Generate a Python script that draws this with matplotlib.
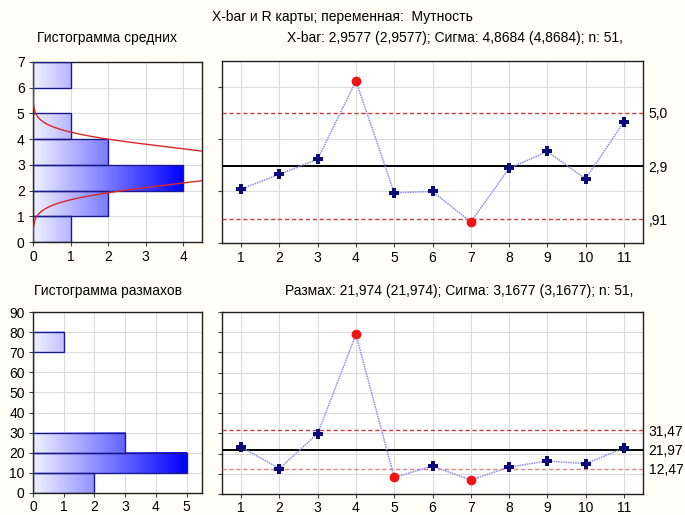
import numpy as np
import matplotlib
matplotlib.use("Agg")
import matplotlib.pyplot as plt
from matplotlib.colors import LinearSegmentedColormap

plt.rcParams['font.family'] = ['Liberation Sans', 'DejaVu Sans']
plt.rcParams['font.size'] = 10

# ---- data ----
samples = [1, 2, 3, 4, 5, 6, 7, 8, 9, 10, 11]
xbar_values = [2.075, 2.64, 3.226, 6.23, 1.93, 1.986, 0.81, 2.868, 3.52, 2.47, 4.66]
range_values = [23.2, 12.6, 29.9, 78.9, 8.2, 13.8, 6.9, 13.3, 16.3, 15.0, 22.7]

xbar_center = 2.9577
xbar_ucl = 5.0029
xbar_lcl = 0.9125
xbar_sigma_mean = 0.6817
xbar_right_labels = ["5,0", "2,9", ",91"]

r_center = 21.974
r_ucl = 31.47
r_lcl = 12.47
r_right_labels = ["31,47", "21,97", "12,47"]

xbar_hist_edges = [0, 1, 2, 3, 4, 5, 6, 7]
xbar_hist_counts = [1, 2, 4, 2, 1, 0, 1]
r_hist_edges = [0, 10, 20, 30, 40, 50, 60, 70, 80]
r_hist_counts = [2, 5, 3, 0, 0, 0, 0, 1]

suptitle = "X-bar и R карты; переменная:  Мутность"
title_hist1 = "Гистограмма средних"
title_chart1 = "X-bar: 2,9577 (2,9577); Сигма: 4,8684 (4,8684); n: 51,"
title_hist2 = "Гистограмма размахов"
title_chart2 = "Размах: 21,974 (21,974); Сигма: 3,1677 (3,1677); n: 51,"

# ---- figure ----
W, H = 685, 515
fig = plt.figure(figsize=(W / 100, H / 100), dpi=100, facecolor='#fffff7')

def ax_at(x0, y0, x1, y1):
    return fig.add_axes([x0 / W, 1 - y1 / H, (x1 - x0) / W, (y1 - y0) / H])

grid_c = '#dcdcdc'
cmap = LinearSegmentedColormap.from_list('g', ['#f2f2ff', '#0000ff'])

def style(ax):
    ax.set_facecolor('white')
    for s in ax.spines.values():
        s.set_color('#202020')
        s.set_linewidth(1.0)
    ax.grid(True, color=grid_c, linewidth=0.8)
    ax.set_axisbelow(True)
    ax.tick_params(length=3, width=0.8, color='#404040', labelsize=10, pad=3)
    ax.tick_params(axis='x', pad=3)

def hist(ax, edges, counts, xmax):
    cmax = max(counts)
    for i, c in enumerate(counts):
        if c <= 0:
            continue
        lo, hi = edges[i], edges[i + 1]
        grad = np.linspace(0, c / cmax, 200).reshape(1, -1)
        ax.imshow(grad, cmap=cmap, vmin=0, vmax=1, aspect='auto',
                  extent=(0, c, lo, hi), zorder=2, interpolation='bilinear')
    ax.barh([(edges[i] + edges[i + 1]) / 2 for i in range(len(counts))], counts,
            height=[edges[i + 1] - edges[i] for i in range(len(counts))],
            fill=False, edgecolor='#1a1a8c', linewidth=1.0, zorder=3)
    ax.set_xlim(0, xmax)

# Top-left histogram
ax1 = ax_at(33, 62, 202, 242)
style(ax1)
hist(ax1, xbar_hist_edges, xbar_hist_counts, 4.5)
ax1.set_ylim(0, 7)
ax1.set_yticks(range(0, 8))
ax1.set_xticks(range(0, 5))
yy = np.linspace(0, 7, 400)
n = len(xbar_values)
dens = n * np.exp(-0.5 * ((yy - xbar_center) / xbar_sigma_mean) ** 2) / (xbar_sigma_mean * np.sqrt(2 * np.pi))
ax1.plot(dens, yy, color='#d82828', linewidth=1.0, zorder=4)
fig.text(37 / W, 1 - 38 / H, title_hist1, ha='left', va='center', fontsize=10)

# Top-right X-bar chart
ax2 = ax_at(222, 61, 643, 243)
style(ax2)
ax2.set_xlim(0.5, 11.5)
ax2.set_ylim(0, 7)
ax2.set_xticks(samples)
ax2.set_yticks([0, 2, 4, 6])
ax2.tick_params(axis='y', labelleft=False, length=3)
ax2.axhline(xbar_center, color='black', linewidth=1.4, zorder=3)
ax2.axhline(xbar_ucl, color='#c83c3c', linewidth=1.0, linestyle=(0, (3, 2)), zorder=3)
ax2.axhline(xbar_lcl, color='#c83c3c', linewidth=1.0, linestyle=(0, (3, 2)), zorder=3)
ax2.plot(samples, xbar_values, color='#8c8ce6', linewidth=1.1, linestyle=(0, (1, 0.6)), zorder=4)
xb = np.array(xbar_values)
out = (xb > xbar_ucl) | (xb < xbar_lcl)
s = np.array(samples)
ax2.plot(s[~out], xb[~out], 'P', color='#0a0a78', markersize=7, markeredgewidth=0, zorder=5)
ax2.plot(s[out], xb[out], 'o', color='#f01414', markersize=6, zorder=5)
ax2_r = ax2.twinx()
ax2_r.set_ylim(0, 7)
ax2_r.set_yticks([xbar_ucl, xbar_center, xbar_lcl])
ax2_r.set_yticklabels(xbar_right_labels)
ax2_r.tick_params(length=0, labelsize=10, pad=4)
for sp in ax2_r.spines.values():
    sp.set_visible(False)
fig.text(287 / W, 1 - 38 / H, title_chart1, ha='left', va='center', fontsize=10)

# Bottom-left histogram
ax3 = ax_at(33, 312, 202, 493)
style(ax3)
hist(ax3, r_hist_edges, r_hist_counts, 5.5)
ax3.set_ylim(0, 90)
ax3.set_yticks(range(0, 91, 10))
ax3.set_xticks(range(0, 6))
ax3.tick_params(axis='x', pad=2)
fig.text(34 / W, 1 - 291 / H, title_hist2, ha='left', va='center', fontsize=10)

# Bottom-right R chart
ax4 = ax_at(222, 312, 643, 494)
style(ax4)
ax4.set_xlim(0.5, 11.5)
ax4.set_ylim(0, 90)
ax4.set_xticks(samples)
ax4.set_yticks(range(0, 91, 10))
ax4.tick_params(axis='y', labelleft=False, length=3)
ax4.tick_params(axis='x', pad=2)
ax4.axhline(r_center, color='black', linewidth=1.4, zorder=3)
ax4.axhline(r_ucl, color='#c83c3c', linewidth=1.0, linestyle=(0, (3, 2)), zorder=3)
ax4.axhline(r_lcl, color='#e08080', linewidth=1.0, linestyle=(0, (3, 2)), zorder=3)
ax4.plot(samples, range_values, color='#8c8ce6', linewidth=1.1, linestyle=(0, (1, 0.6)), zorder=4)
rv = np.array(range_values)
out = (rv > r_ucl) | (rv < r_lcl)
ax4.plot(s[~out], rv[~out], 'P', color='#0a0a78', markersize=7, markeredgewidth=0, zorder=5)
ax4.plot(s[out], rv[out], 'o', color='#f01414', markersize=6, zorder=5)
ax4_r = ax4.twinx()
ax4_r.set_ylim(0, 90)
ax4_r.set_yticks([r_ucl, r_center, r_lcl])
ax4_r.set_yticklabels(r_right_labels)
ax4_r.tick_params(length=0, labelsize=10, pad=4)
for sp in ax4_r.spines.values():
    sp.set_visible(False)
fig.text(285 / W, 1 - 291 / H, title_chart2, ha='left', va='center', fontsize=10)

fig.text(0.5, 1 - 17 / H, suptitle, ha='center', va='center', fontsize=10)

fig.savefig('out.png', dpi=100, facecolor=fig.get_facecolor())
